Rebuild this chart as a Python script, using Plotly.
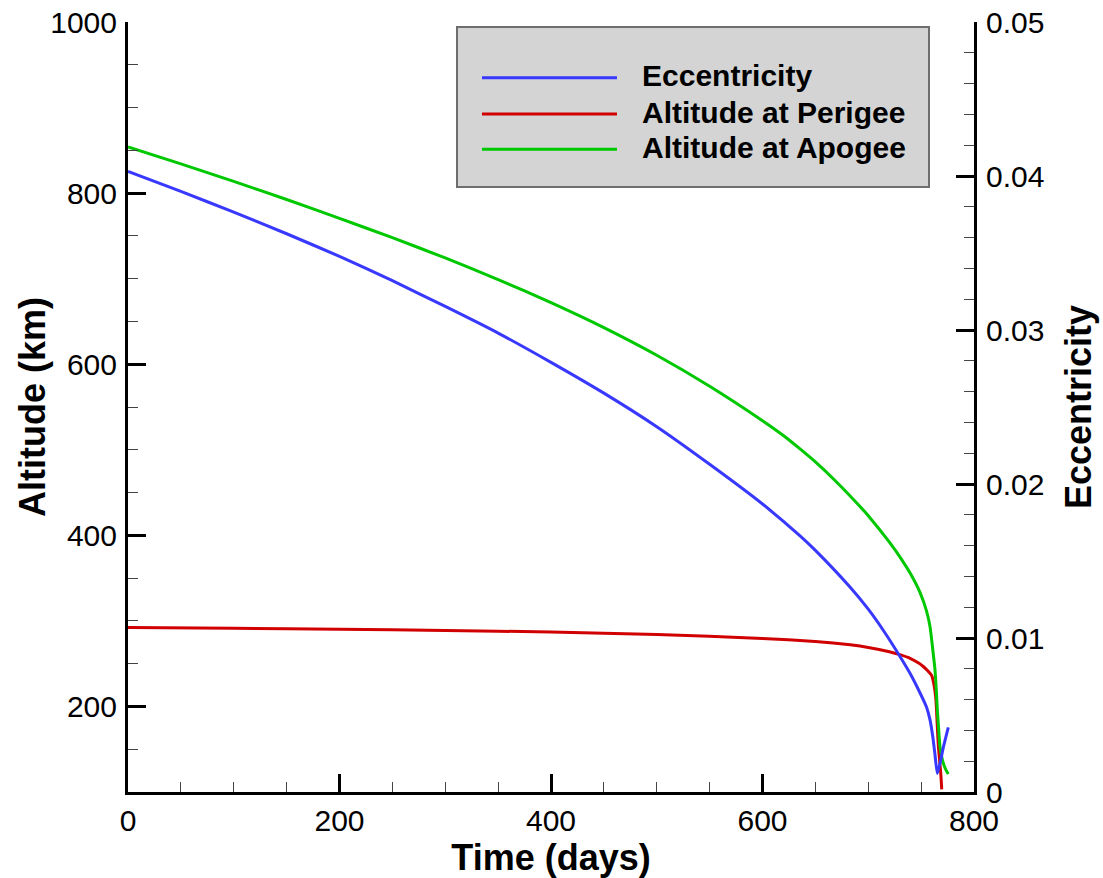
import plotly.graph_objects as go

# ---- data ----
ecc_days = [0, 50, 100, 150, 200, 250, 300, 350, 400, 450, 500, 550, 600, 635.5, 650, 682.7,
            700, 714, 730.3, 740, 749, 755, 758.4, 761, 763, 765.3, 768, 771, 775.7]
ecc_vals = [0.0403, 0.0390, 0.03765, 0.03625, 0.03478, 0.0332, 0.03153, 0.0298, 0.0279,
            0.0259, 0.02372, 0.02128, 0.0187, 0.01663, 0.01569, 0.01331, 0.01187, 0.01052,
            0.00877, 0.00765, 0.00643, 0.00553, 0.00468, 0.0036, 0.0025, 0.0012, 0.0019,
            0.0029, 0.0042]

peri_days = [0, 100, 200, 300, 400, 500, 600, 650, 683, 700, 720, 730, 740, 748, 752, 756,
             760, 762.2, 764, 765.3, 766.3, 768.5, 769.5]
peri_alt = [292.3, 291.3, 290.2, 288.8, 287, 284.2, 279.5, 276, 272, 269, 264, 260.5, 256,
            250.5, 246.7, 242, 236, 225, 208, 177, 153.6, 123, 103]

apo_days = [0, 50, 100, 150, 200, 250, 300, 350, 400, 450, 500, 550, 600, 620, 635.5, 650,
            670, 692, 700, 720, 731.6, 740, 749, 755, 758.4, 761, 763.1, 764.3, 765.3, 766.5,
            767.8, 770, 773, 775.7]
apo_alt = [854, 834.2, 813.7, 792.5, 770.5, 747.9, 724.2, 699, 672, 642.8, 610.5, 574.3,
           534, 516.4, 501, 485.8, 462.4, 434, 423, 392, 371.7, 355, 333, 312, 293.4, 266.6,
           243, 220, 196.5, 175, 153, 138, 127, 121]

series_names = ["Eccentricity", "Altitude at Perigee", "Altitude at Apogee"]
series_colors = ["#3838ff", "#d00000", "#00c800"]

x_ticks = [0, 200, 400, 600, 800]
alt_ticks = [200, 400, 600, 800, 1000]
ecc_ticks = [0, 0.01, 0.02, 0.03, 0.04, 0.05]

FONT = "Liberation Sans, Arial, sans-serif"

fig = go.Figure()
fig.add_trace(go.Scatter(x=ecc_days, y=ecc_vals, yaxis="y2", mode="lines",
                         name=series_names[0],
                         line=dict(color=series_colors[0], width=3, shape="spline", smoothing=0.5)))
fig.add_trace(go.Scatter(x=peri_days, y=peri_alt, mode="lines",
                         name=series_names[1],
                         line=dict(color=series_colors[1], width=3, shape="spline", smoothing=0.5)))
fig.add_trace(go.Scatter(x=apo_days, y=apo_alt, mode="lines",
                         name=series_names[2],
                         line=dict(color=series_colors[2], width=3, shape="spline", smoothing=0.5)))

common = dict(showgrid=False, zeroline=False, showline=True, linecolor="black", linewidth=3,
              ticks="inside", ticklen=18, tickwidth=3, tickcolor="black", automargin=False,
              tickfont=dict(family=FONT, size=30, color="black"))

fig.update_layout(
    width=1103, height=878,
    margin=dict(l=128, r=129, t=22, b=86),
    paper_bgcolor="white", plot_bgcolor="white",
    showlegend=False,
    xaxis=dict(range=[0, 800], tickvals=x_ticks,
               minor=dict(dtick=50, tick0=0, ticks="inside", ticklen=10, tickwidth=1, tickcolor="#444"),
               title=dict(text="<b>Time (days)</b>", font=dict(family=FONT, size=36, color="black"), standoff=2),
               **common),
    yaxis=dict(range=[100, 1000], tickvals=alt_ticks,
               minor=dict(dtick=50, tick0=0, ticks="inside", ticklen=10, tickwidth=1, tickcolor="#444"),
               ticklabelstandoff=2,
               **common),
    yaxis2=dict(range=[0, 0.05], tickvals=ecc_ticks, overlaying="y", side="right",
                minor=dict(dtick=0.002, tick0=0, ticks="inside", ticklen=10, tickwidth=1, tickcolor="#444"),
                ticklabelstandoff=3,
                **common),
)

# ---- y-axis titles ----
fig.add_annotation(xref="paper", yref="paper", x=-0.1135, y=0.5, xanchor="center", yanchor="middle",
                   text="<b>Altitude (km)</b>", textangle=-90, showarrow=False,
                   font=dict(family=FONT, size=36, color="black"))
fig.add_annotation(xref="paper", yref="paper", x=1.1229, y=0.5, xanchor="center", yanchor="middle",
                   text="<b>Eccentricity</b>", textangle=-90, showarrow=False,
                   font=dict(family=FONT, size=36, color="black"))

# ---- legend box (drawn in paper coordinates) ----
fig.add_shape(type="rect", xref="paper", yref="paper", x0=0.3889, x1=0.9468, y0=0.7857, y1=0.9935,
              fillcolor="#d4d4d4", line=dict(color="#6e6e6e", width=2), layer="above")
row_y = [0.9277, 0.8805, 0.8347]
for name, color, yy in zip(series_names, series_colors, row_y):
    fig.add_shape(type="line", xref="paper", yref="paper", x0=0.4184, x1=0.578, y0=yy, y1=yy,
                  line=dict(color=color, width=3), layer="above")
    fig.add_annotation(xref="paper", yref="paper", x=0.6052, y=yy, xanchor="left", yanchor="middle",
                       text="<b>" + name + "</b>", showarrow=False, yshift=2,
                       font=dict(family=FONT, size=30, color="black"))

fig.write_html("out.html")
